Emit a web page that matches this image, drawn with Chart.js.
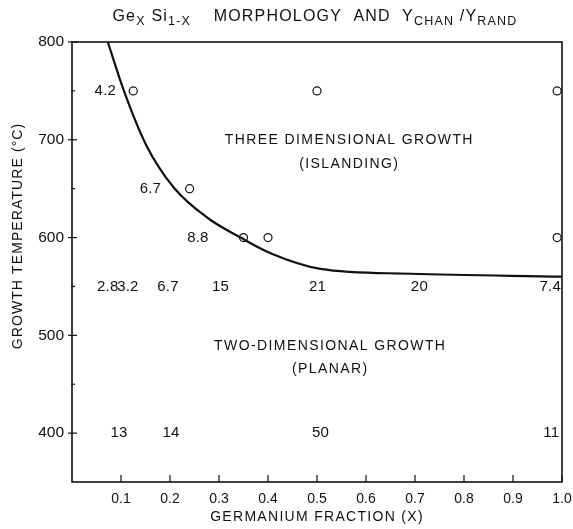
<!DOCTYPE html>
<html lang="en">
<head>
    <meta charset="UTF-8">
    <title>GeSi Morphology</title>
    <script src="https://cdn.jsdelivr.net/npm/chart.js"></script>
    <style>
        html, body { margin: 0; padding: 0; background: #fff; }
        #wrap { width: 573px; height: 529px; }
    </style>
</head>
<body>
    <div id="wrap"><canvas id="morph-chart" width="573" height="529"></canvas></div>

    <script>
        // boundary curve between 2D and 3D growth
        const curveX = [0.073, 0.106, 0.151, 0.208, 0.277, 0.344, 0.405, 0.507, 0.69, 1.0];
        const curveT = [800, 750, 695, 651, 620, 600, 584, 568, 563, 560];

        // open circles (islanding samples)
        const pointX = [0.125, 0.24, 0.35, 0.40, 0.50, 0.99, 0.99];
        const pointT = [750, 650, 600, 600, 750, 750, 600];

        // Ychan/Yrand values written on the plot
        const ratioText = ['4.2', '6.7', '8.8', '2.8', '3.2', '6.7', '15', '21', '20', '7.4', '13', '14', '50', '11'];
        const ratioX = [0.068, 0.16, 0.257, 0.073, 0.114, 0.196, 0.303, 0.501, 0.709, 0.976, 0.096, 0.202, 0.507, 0.978];
        const ratioT = [750, 650, 600, 550, 550, 550, 550, 550, 550, 550, 400, 400, 400, 400];

        // region names
        const regionText = ['THREE DIMENSIONAL GROWTH', '(ISLANDING)', 'TWO-DIMENSIONAL GROWTH', '(PLANAR)'];
        const regionX = [0.566, 0.566, 0.527, 0.527];
        const regionT = [700, 675, 489, 465];

        const xTicks = [0.1, 0.2, 0.3, 0.4, 0.5, 0.6, 0.7, 0.8, 0.9, 1.0];
        const yTicks = [400, 450, 500, 550, 600, 650, 700, 750, 800];
        const yLabels = [400, 500, 600, 700, 800];

        const xTitle = 'GERMANIUM FRACTION (X)';
        const yTitle = 'GROWTH TEMPERATURE (°C)';

        const FONT = '"Liberation Sans", Arial, sans-serif';
        const INK = '#111';

        function spaced(ctx, text, x, y, spacing) {
            ctx.letterSpacing = spacing + 'px';
            ctx.fillText(text, x, y);
            ctx.letterSpacing = '0px';
        }

        const decorPlugin = {
            id: 'decor',
            afterDraw(chart) {
                const ctx = chart.ctx;
                const a = chart.chartArea;
                const xs = chart.scales.x, ys = chart.scales.y;
                ctx.save();
                ctx.strokeStyle = INK;
                ctx.fillStyle = INK;

                // frame
                ctx.lineWidth = 1.6;
                ctx.strokeRect(a.left, a.top, a.right - a.left, a.bottom - a.top);

                // x ticks, pointing inward
                ctx.lineWidth = 1.2;
                xTicks.forEach(v => {
                    const px = xs.getPixelForValue(v);
                    ctx.beginPath();
                    ctx.moveTo(px, a.bottom);
                    ctx.lineTo(px, a.bottom - 7);
                    ctx.stroke();
                });
                // y ticks, crossing the axis
                yTicks.forEach(v => {
                    const py = ys.getPixelForValue(v);
                    const major = v % 100 === 0;
                    ctx.beginPath();
                    ctx.moveTo(a.left - (major ? 4 : 1), py);
                    ctx.lineTo(a.left + (major ? 5 : 3), py);
                    ctx.stroke();
                });

                ctx.textBaseline = 'middle';
                ctx.textAlign = 'center';

                // numbers on the plot
                ctx.font = '15px ' + FONT;
                ratioText.forEach((t, i) => {
                    spaced(ctx, t, xs.getPixelForValue(ratioX[i]), ys.getPixelForValue(ratioT[i]), 0.2);
                });

                // region names
                ctx.font = '14px ' + FONT;
                regionText.forEach((t, i) => {
                    spaced(ctx, t, xs.getPixelForValue(regionX[i]), ys.getPixelForValue(regionT[i]), 1.4);
                });

                // axis titles
                spaced(ctx, xTitle, (a.left + a.right) / 2, 517, 1.3);
                ctx.save();
                ctx.translate(18, 236);
                ctx.rotate(-Math.PI / 2);
                spaced(ctx, yTitle, 0, 0, 1.1);
                ctx.restore();

                // title with subscripts
                const parts = [
                    ['Ge', false], ['X', true], [' Si', false], ['1-X', true],
                    ['    MORPHOLOGY  AND  Y', false], ['CHAN', true], [' /Y', false], ['RAND', true]
                ];
                const big = '16px ' + FONT, small = '12.5px ' + FONT;
                ctx.letterSpacing = '1.2px';
                let total = 0;
                parts.forEach(p => { ctx.font = p[1] ? small : big; total += ctx.measureText(p[0]).width; });
                let cx = 315 - total / 2;
                ctx.textAlign = 'left';
                ctx.textBaseline = 'alphabetic';
                parts.forEach(p => {
                    ctx.font = p[1] ? small : big;
                    ctx.fillText(p[0], cx, p[1] ? 25 : 21);
                    cx += ctx.measureText(p[0]).width;
                });
                ctx.restore();
            }
        };

        new Chart(document.getElementById('morph-chart'), {
            type: 'scatter',
            data: {
                datasets: [
                    {
                        label: 'boundary',
                        type: 'line',
                        data: curveX.map((x, i) => ({ x: x, y: curveT[i] })),
                        borderColor: INK,
                        borderWidth: 2.2,
                        pointRadius: 0,
                        fill: false,
                        cubicInterpolationMode: 'monotone'
                    },
                    {
                        label: 'samples',
                        data: pointX.map((x, i) => ({ x: x, y: pointT[i] })),
                        pointStyle: 'circle',
                        pointRadius: 4,
                        borderColor: INK,
                        borderWidth: 1.2,
                        backgroundColor: '#fff'
                    }
                ]
            },
            options: {
                responsive: false,
                animation: false,
                layout: { padding: { top: 42, right: 11, left: 0, bottom: 0 } },
                plugins: {
                    legend: { display: false },
                    tooltip: { enabled: false }
                },
                scales: {
                    x: {
                        type: 'linear',
                        min: 0,
                        max: 1.0,
                        afterFit: s => { s.height = 47; s.paddingLeft = 0; s.paddingRight = 0; },
                        afterBuildTicks: s => { s.ticks = xTicks.map(v => ({ value: v })); },
                        grid: { display: false, drawTicks: false },
                        border: { display: false },
                        ticks: {
                            color: INK,
                            padding: 9,
                            font: { family: FONT, size: 14 },
                            callback: v => v.toFixed(1)
                        }
                    },
                    y: {
                        type: 'linear',
                        min: 350,
                        max: 800,
                        afterFit: s => { s.width = 72; s.paddingTop = 0; s.paddingBottom = 0; },
                        afterBuildTicks: s => { s.ticks = yLabels.map(v => ({ value: v })); },
                        grid: { display: false, drawTicks: false },
                        border: { display: false },
                        ticks: {
                            color: INK,
                            padding: 8,
                            font: { family: FONT, size: 15.5 }
                        }
                    }
                }
            },
            plugins: [decorPlugin]
        });
    </script>
</body>
</html>
